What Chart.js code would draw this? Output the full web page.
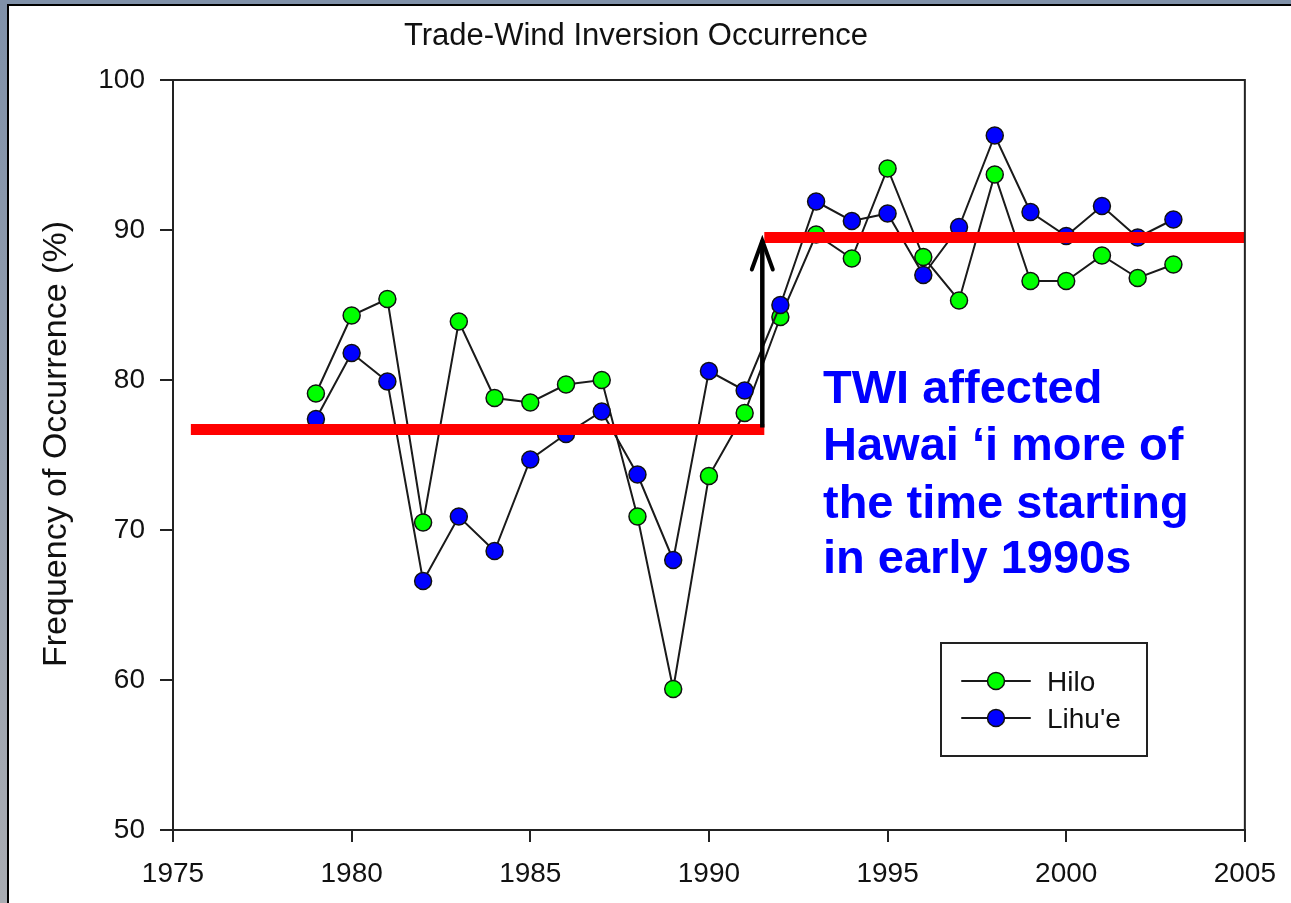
<!DOCTYPE html>
<html>
<head>
<meta charset="utf-8">
<script src="https://cdn.jsdelivr.net/npm/chart.js@4.4.0/dist/chart.umd.min.js"></script>
<style>
html, body { margin: 0; padding: 0; background: #fff; }
canvas { display: block; }
</style>
</head>
<body>
<canvas id="graficoTWI" width="1291" height="903"></canvas>
<script>
// dados
const anos = [1979, 1980, 1981, 1982, 1983, 1984, 1985, 1986, 1987, 1988, 1989, 1990, 1991,
              1992, 1993, 1994, 1995, 1996, 1997, 1998, 1999, 2000, 2001, 2002, 2003];
const hilo = [79.1, 84.3, 85.4, 70.5, 83.9, 78.8, 78.5, 79.7, 80.0, 70.9, 59.4, 73.6, 77.8,
              84.2, 89.7, 88.1, 94.1, 88.2, 85.3, 93.7, 86.6, 86.6, 88.3, 86.8, 87.7];
const lihue = [77.4, 81.8, 79.9, 66.6, 70.9, 68.6, 74.7, 76.4, 77.9, 73.7, 68.0, 80.6, 79.3,
               85.0, 91.9, 90.6, 91.1, 87.0, 90.2, 96.3, 91.2, 89.6, 91.6, 89.5, 90.7];

// medias antes / depois da mudanca
const mediaAntesAnos = [1975.5, 1991.55];
const mediaAntesValor = 76.7;
const mediaDepoisAnos = [1991.55, 2005];
const mediaDepoisValor = 89.5;

const eixoX = { min: 1975, max: 2005, passo: 5 };
const eixoY = { min: 50, max: 100, passo: 10 };

const titulo = 'Trade-Wind Inversion Occurrence';
const tituloY = 'Frequency of Occurrence (%)';
const nota = ['TWI affected', 'Hawai \u2018i more of', 'the time starting', 'in early 1990s'];

const FONTE = "'Liberation Sans', Arial, Helvetica, sans-serif";

function pontos(xs, ys) {
    return xs.map((x, i) => ({ x, y: ys[i] }));
}

function serie(label, valores, cor, ordem) {
    return {
        label,
        data: pontos(anos, valores),
        borderColor: '#1a1a1a',
        borderWidth: 2,
        backgroundColor: cor,
        pointBackgroundColor: cor,
        pointBorderColor: '#111',
        pointBorderWidth: 1.5,
        pointRadius: 8.5,
        tension: 0,
        order: ordem
    };
}

function linhaMedia(xs, valor) {
    return {
        label: '',
        data: xs.map(x => ({ x, y: valor })),
        borderColor: '#ff0000',
        borderWidth: 11,
        borderCapStyle: 'butt',
        pointRadius: 0,
        order: 0
    };
}

const moldura = {
    id: 'moldura',
    beforeDraw(chart) {
        const c = chart.ctx;
        const w = chart.width, h = chart.height;
        c.save();
        c.fillStyle = '#ffffff';
        c.fillRect(0, 0, w, h);
        const g = c.createLinearGradient(0, 0, 0, h);
        g.addColorStop(0, '#8091a9');
        g.addColorStop(1, '#a9acb2');
        c.fillStyle = g;
        c.fillRect(0, 0, 7, h);
        c.fillStyle = '#8091a9';
        c.fillRect(0, 0, w, 4);
        c.fillStyle = '#000';
        c.fillRect(7, 4, 2, h);
        c.fillRect(7, 4, w, 2);
        c.restore();
    }
};

const anotacoes = {
    id: 'anotacoes',
    afterDatasetsDraw(chart) {
        const c = chart.ctx;
        const a = chart.chartArea;
        const sx = chart.scales.x, sy = chart.scales.y;
        c.save();

        // topo e lado direito da caixa
        c.strokeStyle = '#222';
        c.lineWidth = 2;
        c.beginPath();
        c.moveTo(a.left, a.top);
        c.lineTo(a.right, a.top);
        c.lineTo(a.right, a.bottom);
        c.stroke();

        // seta
        const xs = sx.getPixelForValue(mediaAntesAnos[1]) - 2;
        const y0 = sy.getPixelForValue(mediaAntesValor) - 2;
        const y1 = sy.getPixelForValue(mediaDepoisValor) + 3;
        c.strokeStyle = '#000';
        c.lineWidth = 4.5;
        c.beginPath();
        c.moveTo(xs, y0);
        c.lineTo(xs, y1);
        c.stroke();
        c.lineWidth = 4;
        c.lineCap = 'round';
        c.beginPath();
        c.moveTo(xs - 10.5, y1 + 29);
        c.lineTo(xs, y1);
        c.lineTo(xs + 10.5, y1 + 29);
        c.stroke();

        // titulo
        c.fillStyle = '#111';
        c.font = '31px ' + FONTE;
        c.textAlign = 'center';
        c.textBaseline = 'alphabetic';
        c.fillText(titulo, 636, 45);

        // titulo do eixo y
        c.save();
        c.translate(66, 444);
        c.rotate(-Math.PI / 2);
        c.font = '34px ' + FONTE;
        c.fillText(tituloY, 0, 0);
        c.restore();

        // texto azul
        c.fillStyle = '#0000ff';
        c.font = 'bold 47px ' + FONTE;
        c.textAlign = 'left';
        const bases = [403, 460, 518, 573];
        nota.forEach((t, i) => c.fillText(t, 823, bases[i]));

        // legenda
        c.strokeStyle = '#222';
        c.lineWidth = 2;
        c.strokeRect(941, 643, 206, 113);
        const itens = [chart.data.datasets[0], chart.data.datasets[1]];
        const ys = [681, 718];
        itens.forEach((ds, i) => {
            const y = ys[i];
            c.strokeStyle = '#1a1a1a';
            c.lineWidth = 2;
            c.beginPath();
            c.moveTo(962, y);
            c.lineTo(1030, y);
            c.stroke();
            c.beginPath();
            c.arc(996, y, 8.5, 0, Math.PI * 2);
            c.fillStyle = ds.pointBackgroundColor;
            c.fill();
            c.lineWidth = 1.5;
            c.strokeStyle = '#111';
            c.stroke();
            c.fillStyle = '#111';
            c.font = '28px ' + FONTE;
            c.textAlign = 'left';
            c.fillText(ds.label, 1047, y + 10);
        });

        c.restore();
    }
};

const ctx = document.getElementById('graficoTWI').getContext('2d');

new Chart(ctx, {
    type: 'line',
    data: {
        datasets: [
            serie('Hilo', hilo, '#00ff00', 2),
            serie("Lihu'e", lihue, '#0000ff', 1),
            linhaMedia(mediaAntesAnos, mediaAntesValor),
            linhaMedia(mediaDepoisAnos, mediaDepoisValor)
        ]
    },
    options: {
        responsive: false,
        animation: false,
        layout: { padding: { top: 80, right: 46, bottom: 0, left: 0 } },
        plugins: {
            legend: { display: false },
            title: { display: false },
            tooltip: { enabled: false }
        },
        scales: {
            x: {
                type: 'linear',
                min: eixoX.min,
                max: eixoX.max,
                ticks: {
                    stepSize: eixoX.passo,
                    color: '#111',
                    font: { family: FONTE, size: 28 },
                    padding: 15,
                    maxRotation: 0,
                    callback: v => String(v)
                },
                grid: { drawOnChartArea: false, tickLength: 12, color: '#222', lineWidth: 2 },
                border: { color: '#222', width: 2 },
                afterFit(s) { s.height = 73; }
            },
            y: {
                min: eixoY.min,
                max: eixoY.max,
                ticks: {
                    stepSize: eixoY.passo,
                    color: '#111',
                    font: { family: FONTE, size: 28 },
                    padding: 15,
                    callback: v => String(v)
                },
                grid: { drawOnChartArea: false, tickLength: 13, color: '#222', lineWidth: 2 },
                border: { color: '#222', width: 2 },
                afterFit(s) { s.width = 173; }
            }
        }
    },
    plugins: [moldura, anotacoes]
});
</script>
</body>
</html>
